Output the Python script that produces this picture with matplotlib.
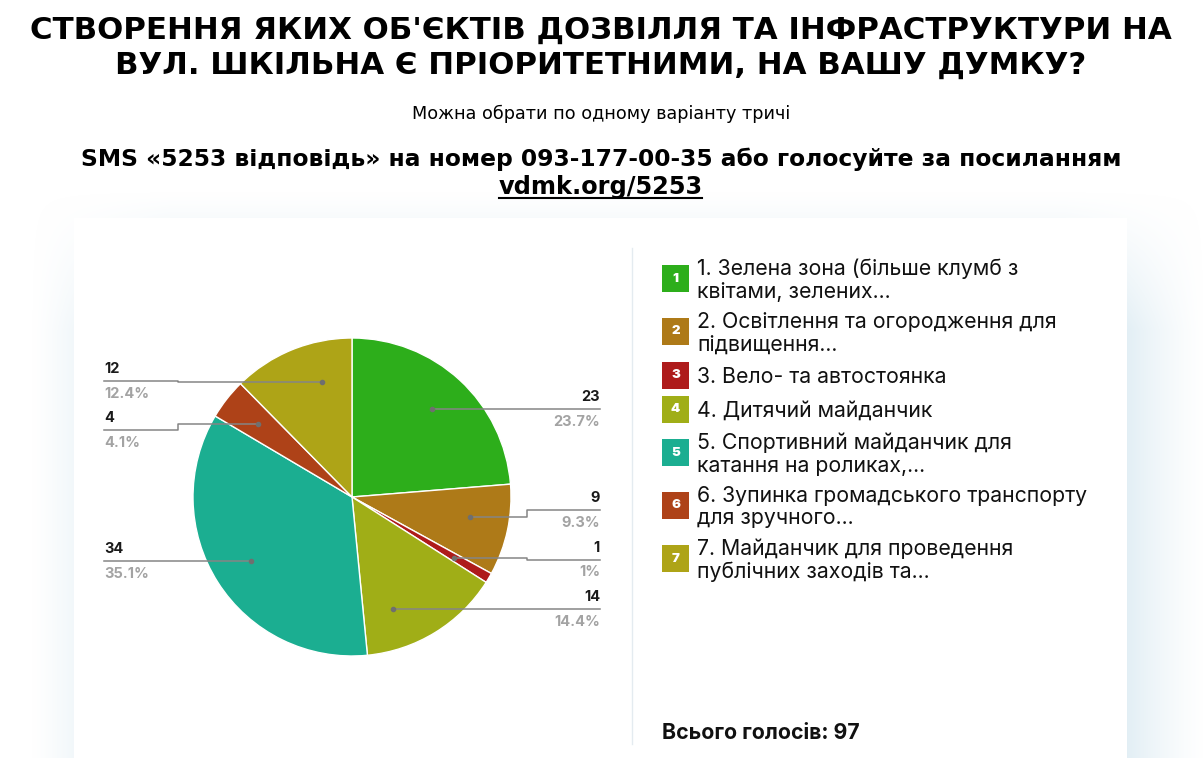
import matplotlib
matplotlib.use("Agg")
import matplotlib.pyplot as plt
import numpy as np

plt.rcParams['font.family'] = ['DejaVu Sans']

votes = [23, 9, 1, 14, 34, 4, 12]
percents = ["23.7%", "9.3%", "1%", "14.4%", "35.1%", "4.1%", "12.4%"]
colors = ["#2dae1b", "#ae7a18", "#ae1b1b", "#a0ae17", "#1bae91", "#ae4218", "#aea417"]
legend_lines = [
    ["1. Зелена зона (більше клумб з", "квітами, зелених..."],
    ["2. Освітлення та огородження для", "підвищення..."],
    ["3. Вело- та автостоянка"],
    ["4. Дитячий майданчик"],
    ["5. Спортивний майданчик для", "катання на роликах,..."],
    ["6. Зупинка громадського транспорту", "для зручного..."],
    ["7. Майданчик для проведення", "публічних заходів та..."],
]

W, H = 1203, 758
fig = plt.figure(figsize=(W / 100, H / 100), dpi=100, facecolor="white")
ax = fig.add_axes([0, 0, 1, 1])
ax.set_xlim(0, W)
ax.set_ylim(H, 0)
ax.axis("off")

# soft shadow around the white card, pushed to the right
yy, xx = np.mgrid[0:H, 0:W]
ax_left = np.clip((xx - 30) / 140, 0, 1)
ax_right = np.clip((1205 - xx) / 140, 0, 1)
ax_top = np.clip((yy - 190) / 140, 0, 1)
alpha = (ax_left * ax_right * ax_top) ** 1.3 * 1.2
shadow = np.zeros((H, W, 4))
shadow[..., 0] = 0.80
shadow[..., 1] = 0.89
shadow[..., 2] = 0.93
shadow[..., 3] = np.clip(alpha, 0, 1)
ax.imshow(shadow, extent=(0, W, H, 0), aspect="auto", zorder=0)
ax.add_patch(plt.Rectangle((74, 218), 1053, 560, color="white", lw=0, zorder=1))

# heading
ax.text(601, 30, "СТВОРЕННЯ ЯКИХ ОБ'ЄКТІВ ДОЗВІЛЛЯ ТА ІНФРАСТРУКТУРИ НА", ha="center", va="center",
        fontsize=22.2, fontweight="bold", color="black", zorder=3)
ax.text(601, 65, "ВУЛ. ШКІЛЬНА Є ПРІОРИТЕТНИМИ, НА ВАШУ ДУМКУ?", ha="center", va="center",
        fontsize=22.2, fontweight="bold", color="black", zorder=3)
ax.text(601, 114, "Можна обрати по одному варіанту тричі", ha="center", va="center",
        fontsize=12.7, color="black", zorder=3)
ax.text(601, 159, "SMS «5253 відповідь» на номер 093-177-00-35 або голосуйте за посиланням",
        ha="center", va="center", fontsize=16.8, fontweight="bold", color="black", zorder=3)
ax.text(601, 187, "vdmk.org/5253", ha="center", va="center", fontsize=17.3, fontweight="bold",
        color="black", zorder=3)
ax.plot([499, 702], [198, 198], color="black", lw=1.5, zorder=3)

# divider
ax.plot([631.5, 631.5], [248, 744], color="#e4ebf0", lw=1, zorder=2)

# pie
cx, cy, r = 352, 497, 159
pie_ax = fig.add_axes([(cx - r) / W, 1 - (cy + r) / H, 2 * r / W, 2 * r / H])
pie_ax.pie(votes, colors=colors, startangle=90, counterclock=False, radius=1,
           wedgeprops={"edgecolor": "white", "linewidth": 1})
pie_ax.set_xlim(-1, 1)
pie_ax.set_ylim(-1, 1)

# leader lines drawn over the pie
over = fig.add_axes([0, 0, 1, 1])
over.set_xlim(0, W)
over.set_ylim(H, 0)
over.axis("off")
over.patch.set_alpha(0)

label_y = [409, 510, 559.5, 609, 561, 430, 380.7]
dot_y = [409, 517, 558, 609, 561, 424, 381.7]
total = sum(votes)
cum = 0
for v, p, ly, py in zip(votes, percents, label_y, dot_y):
    ang = (cum + v / 2) / total * 2 * np.pi
    cum += v
    # dots sit on a ring at 0.75 of the radius, moved along it to fit the labels
    off = np.sqrt((0.75 * r) ** 2 - (py - cy) ** 2)
    if np.sin(ang) > 0:
        px = cx + off
        xs = [px, 527, 527, 600]
        tx, ha = 600, "right"
    else:
        px = cx - off
        xs = [px, 178, 178, 104]
        tx, ha = 104, "left"
    over.plot(xs, [py, py, ly, ly], color="#858585", lw=1.1)
    over.plot([px], [py], "o", color="#6f6f6f", ms=3)
    over.text(tx, ly - 12, str(v), ha=ha, va="center", fontsize=10.5, fontweight="bold",
              color="#1a1a1a", family="Inter")
    over.text(tx, ly + 13, p, ha=ha, va="center", fontsize=10.5, fontweight="bold",
              color="#a3a3a3", family="Inter")

# legend
box_top = [265, 318, 362, 396, 439, 492, 545]
for i, (top, lines, c) in enumerate(zip(box_top, legend_lines, colors)):
    over.add_patch(plt.Rectangle((662, top), 27, 27, color=c, lw=0))
    over.text(675.5, top + 13.5, str(i + 1), ha="center", va="center", color="white",
              fontsize=9.5, fontweight="black", family="Inter")
    mid = top + 15
    if len(lines) == 2:
        over.text(697, mid - 11.5, lines[0], va="center", fontsize=15.3, color="#111111", family="Inter")
        over.text(697, mid + 11.5, lines[1], va="center", fontsize=15.3, color="#111111", family="Inter")
    else:
        over.text(697, mid, lines[0], va="center", fontsize=15.3, color="#111111", family="Inter")

over.text(662, 733, "Всього голосів: 97", va="center", fontsize=15.3, fontweight="bold",
          color="#111111", family="Inter")

fig.savefig("out.png", dpi=100)
plt.close(fig)
